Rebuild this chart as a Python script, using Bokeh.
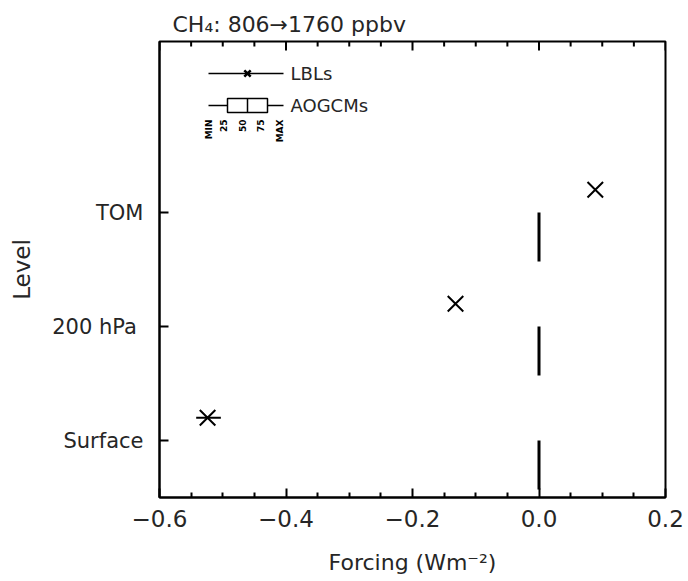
import math
from bokeh.plotting import figure
from bokeh.models import FixedTicker, Range1d
from bokeh.embed import file_html
from bokeh.resources import INLINE
from bokeh.core.properties import value

# ---- data ----
levels = ["Surface", "200  hPa", "TOM"]
level_pos = [0, 1, 2]
lbl_forcing = [-0.524, -0.132, 0.089]
lbl_lo = [-0.542, -0.132, 0.089]
lbl_hi = [-0.503, -0.132, 0.089]
lbl_offset = 0.2
zero_forcing = 0.0
zero_len = 0.43
x_ticks = [-0.6, -0.4, -0.2, 0.0, 0.2]
x_tick_labels = ["\u22120.6", "\u22120.4", "\u22120.2", "0.0", "0.2"]
x_minor = [-0.55, -0.5, -0.45, -0.35, -0.3, -0.25, -0.15, -0.1, -0.05, 0.05, 0.1, 0.15]
box_labels = ["MIN", "25", "50", "75", "MAX"]

FONT = "DejaVu Sans"
TXT = "#262626"
W, H = 688, 581
L, R, T, B = 159, 23, 41, 84
X0, X1 = -0.6, 0.2
Y0, Y1 = -0.5, 3.5
FW, FH = W - L - R, H - T - B


def dx(px):
    return X0 + (px - L) / FW * (X1 - X0)


def dy(py):
    return Y0 + (H - B - py) / FH * (Y1 - Y0)


p = figure(width=W, height=H, x_range=Range1d(X0, X1), y_range=Range1d(Y0, Y1),
           output_backend="svg", toolbar_location=None,
           min_border_left=L, min_border_right=R, min_border_top=T, min_border_bottom=B,
           x_axis_label="Forcing (Wm\u207b\u00b2)", y_axis_label="Level")
p.background_fill_color = "white"
p.border_fill_color = "white"
p.outline_line_color = "black"
p.outline_line_width = 2
p.grid.visible = False

p.title.text = "CH\u2084: 806\u21921760  ppbv"
p.title.text_font = FONT
p.title.text_font_size = "22px"
p.title.text_font_style = "normal"
p.title.text_color = TXT
p.title.align = "left"
p.title.offset = 13

xa = p.xaxis[0]
xa.ticker = FixedTicker(ticks=x_ticks, minor_ticks=x_minor)
xa.major_label_overrides = {t: s for t, s in zip(x_ticks, x_tick_labels)}
ya = p.yaxis[0]
ya.ticker = FixedTicker(ticks=level_pos)
ya.major_label_overrides = {t: s for t, s in zip(level_pos, levels)}

for ax in (xa, ya):
    ax.axis_line_width = 2
    ax.axis_line_color = "black"
    ax.major_tick_in = 9
    ax.major_tick_out = 0
    ax.minor_tick_in = 5
    ax.minor_tick_out = 0
    ax.major_tick_line_width = 2
    ax.minor_tick_line_width = 2
    ax.major_label_text_font = FONT
    ax.major_label_text_color = TXT
    ax.axis_label_text_font = FONT
    ax.axis_label_text_font_style = "normal"
    ax.axis_label_text_color = TXT

xa.major_label_text_font_size = "23px"
xa.major_label_standoff = 12
xa.axis_label_text_font_size = "22px"
xa.axis_label_standoff = 20
ya.major_label_text_font_size = "21px"
ya.major_label_standoff = 16
ya.axis_label_text_font_size = "23px"
ya.axis_label_standoff = 14

# tick marks along the top edge of the frame
maj_len = 9 / FH * (Y1 - Y0)
min_len = 5 / FH * (Y1 - Y0)
p.segment(x0=x_ticks, y0=[Y1] * len(x_ticks), x1=x_ticks, y1=[Y1 - maj_len] * len(x_ticks),
          line_color="black", line_width=2)
p.segment(x0=x_minor, y0=[Y1] * len(x_minor), x1=x_minor, y1=[Y1 - min_len] * len(x_minor),
          line_color="black", line_width=2)

# zero reference segments at each level
p.segment(x0=[zero_forcing] * 3, y0=level_pos, x1=[zero_forcing] * 3,
          y1=[v - zero_len for v in level_pos], line_color="black", line_width=3)

# LBL results
ly = [v + lbl_offset for v in level_pos]
p.segment(x0=lbl_lo, y0=ly, x1=lbl_hi, y1=ly, line_color="black", line_width=2)
p.scatter(lbl_forcing, ly, marker="x", size=22, line_color="black", line_width=2)

# ---- hand-drawn key ----
yk1, yk2 = dy(73), dy(105)
p.segment(x0=[dx(208)], y0=[yk1], x1=[dx(283)], y1=[yk1], line_color="black", line_width=1.5)
p.scatter([dx(247)], [yk1], marker="x", size=9, line_color="black", line_width=2.5)
p.segment(x0=[dx(208), dx(267)], y0=[yk2, yk2], x1=[dx(227), dx(283)], y1=[yk2, yk2],
          line_color="black", line_width=1.5)
p.quad(left=[dx(227)], right=[dx(267)], top=[dy(98)], bottom=[dy(112)],
       fill_color="white", line_color="black", line_width=1.5)
p.segment(x0=[dx(247)], y0=[dy(98)], x1=[dx(247)], y1=[dy(112)], line_color="black", line_width=1.5)
p.text([dx(290), dx(290)], [yk1, yk2], text=["LBLs", "AOGCMs"], text_font=value(FONT),
       text_font_size="18px", text_baseline="middle", text_align="left", text_color=TXT)
kx = [dx(208), dx(223), dx(242), dx(260), dx(279)]
p.text(kx, [dy(119)] * 5, text=box_labels, angle=math.pi / 2, text_font=value(FONT),
       text_font_size="9px", text_font_style="bold", text_baseline="middle",
       text_align="right", text_color="black")

open("out.html", "w").write(file_html(p, INLINE))
